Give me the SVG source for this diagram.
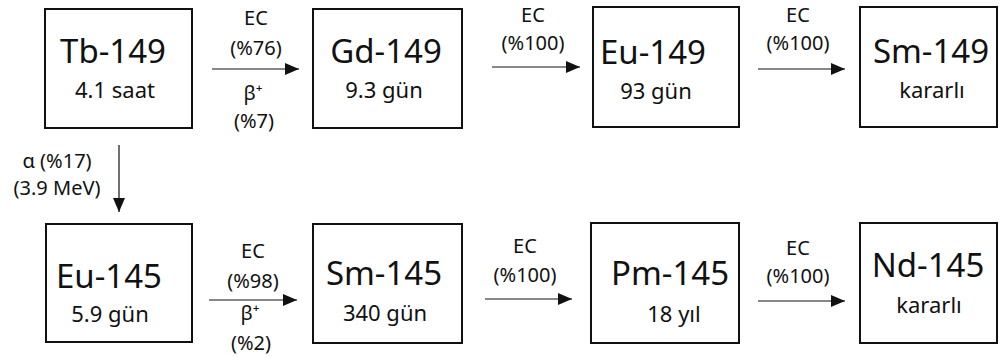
<svg xmlns="http://www.w3.org/2000/svg" width="1000" height="358" viewBox="0 0 1000 358">
<style>
.box{fill:#fff;stroke:#111;stroke-width:2}
.t{font-family:"Noto Sans","Open Sans",sans-serif;fill:#111;text-anchor:middle}
.big{font-size:33px}
.sub{font-size:22px}
.lab{font-size:20px}
.arr{stroke:#111;stroke-width:1.2;fill:none;marker-end:url(#ah)}
</style>
<defs>
<marker id="ah" viewBox="0 0 14 12" refX="14" refY="6" markerWidth="14" markerHeight="12" markerUnits="userSpaceOnUse" orient="auto">
<path d="M0,0 L14,6 L0,12 z" fill="#111"/>
</marker>
</defs>
<rect width="1000" height="358" fill="#fff"/>
<g id="tb149"><rect class="box" x="45" y="9" width="147" height="119"/><text class="t big" x="113" y="63">Tb-149</text><text class="t sub" x="115" y="98">4.1 saat</text></g>
<g id="gd149"><rect class="box" x="313" y="9" width="149" height="119"/><text class="t big" x="386" y="63">Gd-149</text><text class="t sub" x="384" y="98">9.3 gün</text></g>
<g id="eu149"><rect class="box" x="593" y="7" width="146" height="120"/><text class="t big" x="653" y="64">Eu-149</text><text class="t sub" x="656" y="99">93 gün</text></g>
<g id="sm149"><rect class="box" x="860" y="7" width="137" height="120"/><text class="t big" x="931" y="63">Sm-149</text><text class="t sub" x="932" y="98">kararlı</text></g>
<g id="eu145"><rect class="box" x="46" y="224" width="146" height="118"/><text class="t big" x="109" y="288">Eu-145</text><text class="t sub" x="110" y="322">5.9 gün</text></g>
<g id="sm145"><rect class="box" x="313" y="224" width="149" height="119"/><text class="t big" x="384" y="285">Sm-145</text><text class="t sub" x="385" y="321">340 gün</text></g>
<g id="pm145"><rect class="box" x="591" y="223" width="148" height="120"/><text class="t big" x="670" y="285">Pm-145</text><text class="t sub" x="674" y="322">18 yıl</text></g>
<g id="nd145"><rect class="box" x="860" y="223" width="137" height="120"/><text class="t big" x="928" y="277">Nd-145</text><text class="t sub" x="929" y="313">kararlı</text></g>
<g id="connectors">
<line class="arr" x1="212" y1="69" x2="299" y2="69"/>
<text class="t lab" x="256" y="25">EC</text>
<text class="t lab" x="256" y="55">(%76)</text>
<text class="t lab" x="253" y="100">β⁺</text>
<text class="t lab" x="254" y="128">(%7)</text>
<line class="arr" x1="492" y1="67" x2="580" y2="67"/>
<text class="t lab" x="533" y="22">EC</text>
<text class="t lab" x="533" y="50">(%100)</text>
<line class="arr" x1="758" y1="69" x2="845" y2="69"/>
<text class="t lab" x="798" y="22">EC</text>
<text class="t lab" x="798" y="50">(%100)</text>
<line class="arr" x1="119" y1="145" x2="119" y2="212"/>
<text class="t lab" x="57" y="168">α (%17)</text>
<text class="t lab" x="57" y="195">(3.9 MeV)</text>
<line class="arr" x1="209" y1="300" x2="297" y2="300"/>
<text class="t lab" x="253" y="258">EC</text>
<text class="t lab" x="253" y="288">(%98)</text>
<text class="t lab" x="250" y="320">β⁺</text>
<text class="t lab" x="251" y="350">(%2)</text>
<line class="arr" x1="485" y1="299" x2="572" y2="299"/>
<text class="t lab" x="525" y="253">EC</text>
<text class="t lab" x="525" y="282">(%100)</text>
<line class="arr" x1="758" y1="301" x2="845" y2="301"/>
<text class="t lab" x="798" y="255">EC</text>
<text class="t lab" x="798" y="283">(%100)</text>
</g>
</svg>
